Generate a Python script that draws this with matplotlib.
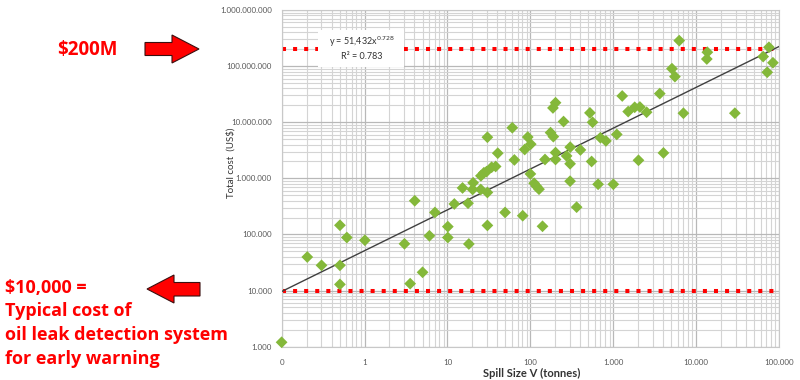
import matplotlib
matplotlib.use("Agg")
import matplotlib.pyplot as plt
from matplotlib.patches import Polygon, Rectangle
from matplotlib.ticker import LogLocator, FuncFormatter, NullFormatter
import numpy as np

plt.rcParams['font.family'] = ['Lato', 'DejaVu Sans']

# spill size (tonnes) and total cost (US$)
spill_t = [0.10, 0.204, 0.303, 0.505, 0.505, 0.505, 0.612, 1.01, 3.03, 3.55,
           4.03, 5.01, 6.06, 7.06, 10.1, 10.1, 12.1, 15.2, 17.7, 18.1,
           20.1, 20.4, 25.3, 27.5, 29.6, 25.2, 30.3, 30.3, 30.3, 34.1,
           38.1, 40.4, 49.5, 60.5, 64.1, 80.8, 85.4, 92.9, 101, 100,
           111, 119, 127, 140, 150, 175, 189, 187, 201, 201,
           201, 251, 273, 302, 301, 301, 361, 401, 522, 547,
           562, 655, 698, 814, 1000, 1100, 1280, 1510, 1810, 2090,
           2520, 2010, 3630, 4020, 5090, 5530, 6230, 7000, 13600, 13400,
           29200, 64100, 75200, 84000, 71700]
cost_usd = [1.2e3, 3.97e4, 2.82e4, 1.46e5, 2.82e4, 1.29e4, 8.83e4, 7.89e4, 6.82e4, 1.33e4,
            3.99e5, 2.12e4, 9.48e4, 2.47e5, 1.38e5, 8.83e4, 3.5e5, 6.75e5, 3.61e5, 6.77e4,
            6.34e5, 8.35e5, 1.11e6, 1.26e6, 1.32e6, 6.34e5, 5.61e5, 5.41e6, 1.45e5, 1.58e6,
            1.63e6, 2.81e6, 2.47e5, 7.98e6, 2.13e6, 2.16e5, 3.27e6, 5.45e6, 4.07e6, 1.2e6,
            8.19e5, 7.18e5, 6.41e5, 1.4e5, 2.17e6, 6.53e6, 5.54e6, 1.8e7, 2.23e7, 2.88e6,
            2.17e6, 1.03e7, 2.51e6, 3.6e6, 1.82e6, 8.91e5, 3.07e5, 3.21e6, 1.47e7, 2.0e6,
            1.0e7, 7.85e5, 5.3e6, 4.65e6, 7.85e5, 6.07e6, 2.94e7, 1.55e7, 1.85e7, 1.87e7,
            1.51e7, 2.1e6, 3.24e7, 2.84e6, 9.02e7, 6.5e7, 2.85e8, 1.45e7, 1.77e8, 1.34e8,
            1.45e7, 1.48e8, 2.17e8, 1.15e8, 7.78e7]

# power-law fit shown on the chart
fit_a = 51432
fit_b = 0.728
fit_r2 = 0.783

cost_high = 2e8    # $200M
cost_low = 1e4     # $10,000 leak detection system


def dotted(v, pos):
    if v < 1:
        return "0"
    return "{:,.0f}".format(v).replace(",", ".")


fig = plt.figure(figsize=(8, 3.8), dpi=100)
ax = fig.add_axes([0.352, 0.0876, 0.622, 0.886])
ax.set_xscale("log")
ax.set_yscale("log")
ax.set_xlim(0.1, 1e5)
ax.set_ylim(1e3, 1e9)

ax.xaxis.set_major_locator(LogLocator(base=10, numticks=10))
ax.yaxis.set_major_locator(LogLocator(base=10, numticks=10))
ax.xaxis.set_minor_locator(LogLocator(base=10, subs=np.arange(2, 10), numticks=20))
ax.yaxis.set_minor_locator(LogLocator(base=10, subs=np.arange(2, 10), numticks=20))
ax.xaxis.set_major_formatter(FuncFormatter(dotted))
ax.yaxis.set_major_formatter(FuncFormatter(dotted))
ax.xaxis.set_minor_formatter(NullFormatter())
ax.yaxis.set_minor_formatter(NullFormatter())
ax.tick_params(which="both", length=0, labelsize=5.8, labelcolor="#595959")
ax.tick_params(axis="x", pad=9)
ax.tick_params(axis="y", pad=7)

ax.grid(True, which="major", color="#b8b8b8", lw=0.9)
ax.grid(True, which="minor", color="#d4d4d4", lw=0.8)
ax.set_axisbelow(True)
for s in ax.spines.values():
    s.set_color("#c8c8c8")
    s.set_linewidth(0.8)

# red reference lines
for c in (cost_high, cost_low):
    ax.axhline(c, color="#ff0000", lw=2.9, linestyle=(0, (1, 1.75)),
               dash_capstyle="butt", zorder=2)

# trend line
xs = np.logspace(-1, 5, 50)
ax.plot(xs, fit_a * xs ** fit_b, color="#404040", lw=1.0, zorder=3)

ax.scatter(spill_t, cost_usd, marker="D", s=36, color="#84b83a",
           edgecolors="none", zorder=4, clip_on=False)

# equation box
ax.add_patch(Rectangle((0.073, 0.831), 0.173, 0.11, transform=ax.transAxes,
                       facecolor="white", edgecolor="none", zorder=5))
ax.text(0.161, 0.905, "y = 51,432x$^{0.728}$", transform=ax.transAxes,
        ha="center", va="center", fontsize=6.5, color="#333333", zorder=6)
ax.text(0.161, 0.862, "R² = {}".format(fit_r2), transform=ax.transAxes,
        ha="center", va="center", fontsize=6.5, color="#333333", zorder=6)

ax.set_ylabel("Total cost  (US$)", fontsize=7, color="#333333")
ax.yaxis.set_label_coords(-0.092, 0.546)
ax.set_xlabel("Spill Size V (tonnes)", fontsize=8, fontweight="bold", color="#333333")
ax.xaxis.set_label_coords(0.503, -0.064)

# annotations on the left, in pixel space
ov = fig.add_axes([0, 0, 1, 1])
ov.set_xlim(0, 800)
ov.set_ylim(380, 0)
ov.set_xticks([])
ov.set_yticks([])
ov.axis("off")

ov.add_patch(Polygon([(145, 42.5), (172, 42.5), (172, 35), (199, 49),
                      (172, 63), (172, 55.5), (145, 55.5)],
                     closed=True, facecolor="#ff0000", edgecolor="#3a1010", lw=0.8))
ov.add_patch(Polygon([(147, 289), (174, 275), (174, 282.5), (200, 282.5),
                      (200, 296), (174, 296), (174, 303)],
                     closed=True, facecolor="#ff0000", edgecolor="#3a1010", lw=0.8))

red_font = ["Open Sans", "DejaVu Sans"]
ov.text(87, 50, "$200M", ha="center", va="center", fontsize=13.5,
        fontweight="bold", color="#ff0000", family=red_font)
lines = ["$10,000 =", "Typical cost of", "oil leak detection system", "for early warning"]
for i, t in enumerate(lines):
    ov.text(5, 293 + i * 23.5, t, ha="left", va="baseline", fontsize=13,
            fontweight="bold", color="#ff0000", family=red_font)

fig.savefig("out.png", dpi=100)
